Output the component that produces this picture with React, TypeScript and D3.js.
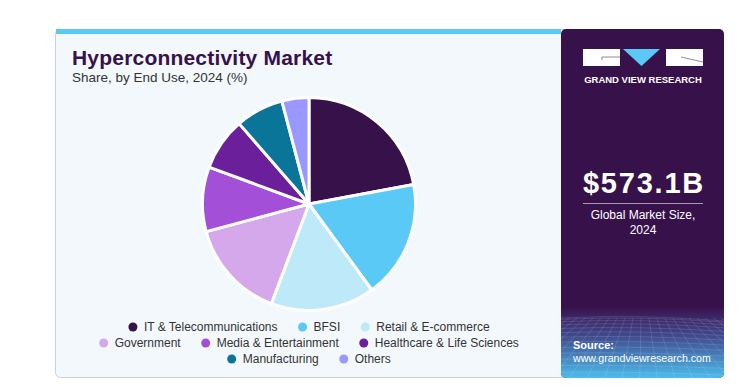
import React, { useEffect, useRef } from "react";
import * as d3 from "d3";

// end-use share, 2024 (%)
const categories = [
  "IT & Telecommunications",
  "BFSI",
  "Retail & E-commerce",
  "Government",
  "Media & Entertainment",
  "Healthcare & Life Sciences",
  "Manufacturing",
  "Others",
];
const shares = [22.1, 17.9, 15.8, 15.1, 9.8, 8.0, 7.3, 4.1];
const colors = ["#37114a", "#5bc9f6", "#bde9f9", "#d5a8ec", "#a44fd7", "#6b1f9b", "#0b7499", "#9a97fe"];
const legendRows = [[0, 1, 2], [3, 4, 5], [6, 7]];

const FONT = "'Liberation Sans', Arial, sans-serif";

const App = () => {
  const svgRef = useRef<SVGSVGElement>(null);

  useEffect(() => {
    const svg = d3.select(svgRef.current);
    svg.selectAll("*").remove();

    const defs = svg.append("defs");
    const grad = defs.append("linearGradient").attr("id", "srcGrad")
      .attr("x1", 0).attr("y1", 0).attr("x2", 0).attr("y2", 1);
    grad.append("stop").attr("offset", "0%").attr("stop-color", "#3a1450");
    grad.append("stop").attr("offset", "40%").attr("stop-color", "#3f4a8e");
    grad.append("stop").attr("offset", "100%").attr("stop-color", "#4dbcec");
    defs.append("clipPath").attr("id", "panelClip")
      .append("rect").attr("x", 561).attr("y", 29).attr("width", 163).attr("height", 349).attr("rx", 5);

    // card
    svg.append("rect").attr("x", 55.5).attr("y", 29.5).attr("width", 668).attr("height", 348)
      .attr("rx", 5).attr("fill", "#f3f8fc").attr("stroke", "#cfcfcf");
    svg.append("rect").attr("x", 56).attr("y", 29).attr("width", 505).attr("height", 5).attr("fill", "#5bc9f6");

    // right panel
    const panel = svg.append("g").attr("clip-path", "url(#panelClip)");
    panel.append("rect").attr("x", 561).attr("y", 29).attr("width", 163).attr("height", 349).attr("fill", "#37124a");
    panel.append("rect").attr("x", 561).attr("y", 308).attr("width", 163).attr("height", 70).attr("fill", "url(#srcGrad)");
    const mesh = panel.append("g").attr("stroke", "#ffffff").attr("stroke-opacity", 0.18).attr("stroke-width", 0.7).attr("fill", "none");
    const hy = d3.range(0, 14).map(i => 318 + Math.pow(i, 1.5) * 1.3);
    hy.forEach((y, i) => mesh.append("path")
      .attr("d", `M561,${y} Q640,${y - 4 + i * 0.3} 724,${y + 3}`));
    d3.range(-12, 24).forEach(i => {
      const xt = 561 + i * 8;
      mesh.append("line").attr("x1", xt).attr("y1", 318).attr("x2", 642 + (xt - 642) * 2.2).attr("y2", 378);
    });

    // logo
    const logo = svg.append("g");
    logo.append("rect").attr("x", 583).attr("y", 49).attr("width", 37).attr("height", 17).attr("fill", "#fff");
    logo.append("path").attr("d", "M623,49 L660,49 L641.5,66 Z").attr("fill", "#5bc9f6");
    logo.append("rect").attr("x", 666).attr("y", 49).attr("width", 37).attr("height", 17).attr("fill", "#fff");
    logo.append("path").attr("d", "M602,60 L602,57 L620,57").attr("stroke", "#7a6a86").attr("fill", "none").attr("stroke-width", 0.8);
    logo.append("path").attr("d", "M681,57 L703,62").attr("stroke", "#7a6a86").attr("fill", "none").attr("stroke-width", 0.8);
    logo.append("text").attr("x", 643).attr("y", 83).attr("text-anchor", "middle").attr("fill", "#fff")
      .attr("font-family", FONT).attr("font-weight", "bold").attr("font-size", 9.5)
      .text("GRAND VIEW RESEARCH");

    // market size
    svg.append("text").attr("x", 644).attr("y", 193).attr("text-anchor", "middle").attr("fill", "#fff")
      .attr("font-family", FONT).attr("font-weight", "bold").attr("font-size", 29).attr("letter-spacing", 1.8)
      .text("$573.1B");
    svg.append("line").attr("x1", 583).attr("x2", 703).attr("y1", 203.5).attr("y2", 203.5)
      .attr("stroke", "#a896b4").attr("stroke-width", 1);
    svg.append("text").attr("x", 643).attr("y", 219).attr("text-anchor", "middle").attr("fill", "#fff")
      .attr("font-family", FONT).attr("font-size", 12).text("Global Market Size,");
    svg.append("text").attr("x", 643).attr("y", 234).attr("text-anchor", "middle").attr("fill", "#fff")
      .attr("font-family", FONT).attr("font-size", 12).text("2024");

    // source
    svg.append("text").attr("x", 573).attr("y", 349).attr("fill", "#fff")
      .attr("font-family", FONT).attr("font-weight", "bold").attr("font-size", 11).text("Source:");
    svg.append("text").attr("x", 573).attr("y", 362).attr("fill", "#fff")
      .attr("font-family", FONT).attr("font-size", 10.6).text("www.grandviewresearch.com");

    // titles
    svg.append("text").attr("x", 72).attr("y", 65).attr("fill", "#37114a")
      .attr("font-family", FONT).attr("font-weight", "bold").attr("font-size", 21).attr("letter-spacing", 0.2)
      .text("Hyperconnectivity Market");
    svg.append("text").attr("x", 72).attr("y", 82).attr("fill", "#333")
      .attr("font-family", FONT).attr("font-size", 13.5).text("Share, by End Use, 2024 (%)");

    // pie
    const cx = 309, cy = 204, r = 106.5;
    const pie = d3.pie<number>().sort(null).value(d => d);
    const arc = d3.arc<d3.PieArcDatum<number>>().innerRadius(0).outerRadius(r);
    svg.append("g").attr("transform", `translate(${cx},${cy})`)
      .selectAll("path")
      .data(pie(shares))
      .enter()
      .append("path")
      .attr("d", arc)
      .attr("fill", (d, i) => colors[i])
      .attr("stroke", "#fff")
      .attr("stroke-width", 3)
      .attr("stroke-linejoin", "round");

    // legend
    const rowY = [327, 343, 359];
    legendRows.forEach((row, ri) => {
      const g = svg.append("g");
      let x = 0;
      row.forEach(i => {
        const item = g.append("g").attr("transform", `translate(${x},0)`);
        item.append("circle").attr("cx", 0).attr("cy", 0).attr("r", 4.5).attr("fill", colors[i]);
        const t = item.append("text").attr("x", 11).attr("y", 4.2).attr("fill", "#333")
          .attr("font-family", FONT).attr("font-size", 12).text(categories[i]);
        const w = (t.node() as SVGTextElement).getComputedTextLength();
        x += 11 + w + 25;
      });
      const total = x - 25 + 4.5;
      g.attr("transform", `translate(${cx - total / 2 + 4.5},${rowY[ri]})`);
    });
  }, []);

  return (
    <svg ref={svgRef} width={745} height={390} style={{ position: "absolute", left: 0, top: 0 }} />
  );
};

export default App;
